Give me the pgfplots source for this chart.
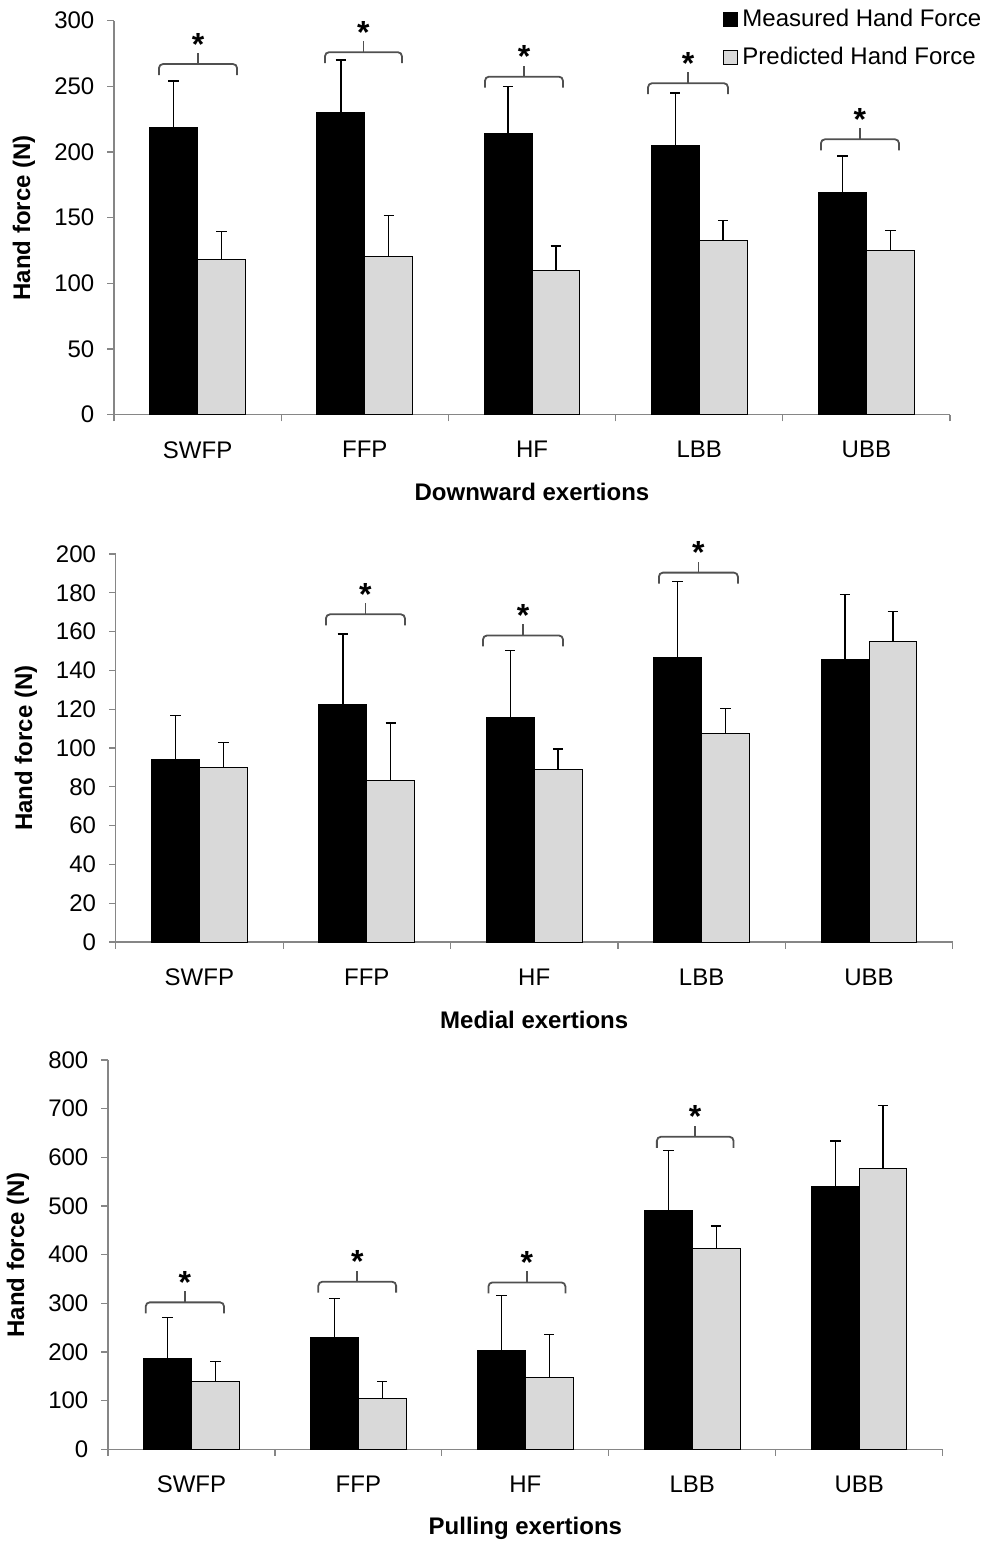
\documentclass[border=0pt]{standalone}
\usepackage{fontspec}
\setmainfont{Liberation Sans}
\usepackage{pgfplots}
\pgfplotsset{compat=1.18}
\usepackage{pgfplotstable}
\definecolor{axgray}{HTML}{868686}
\definecolor{barlight}{HTML}{D9D9D9}
\definecolor{brkgray}{HTML}{505050}

\pgfplotstableread{
x m me p pe
0 219 35 118.5 21
1 230 40 120.5 31
2 214 36 110 18.5
3 205 40 133 15
4 169 28 125 15
}\down
\pgfplotstableread{
x m me p pe
0 94.3 22.5 90.2 12.5
1 122.3 36.5 83.3 29.6
2 115.8 34.4 88.7 10.8
3 146.4 39.5 107.4 13
4 145.7 33.3 154.8 15.7
}\medial
\pgfplotstableread{
x m me p pe
0 187 83.4 139.7 40.3
1 230 80 104.8 34.9
2 204 111.6 147.9 87.6
3 490.3 124 412.2 46.6
4 540.4 93.1 577.3 129.5
}\pulling

\newcommand{\fs}{\fontsize{12}{14}\selectfont}
% significance bracket: x1, x2, ytop
\newcommand{\sig}[3]{%
  \draw[brkgray, line width=0.9pt, rounded corners=2pt]
    ([yshift=-5.5pt]axis cs:#1,#3) -- (axis cs:#1,#3) -- (axis cs:#2,#3) -- ([yshift=-5.5pt]axis cs:#2,#3);
  \draw[brkgray, line width=0.9pt]
    (axis cs:{(#1+#2)/2},#3) -- ([yshift=5.5pt]axis cs:{(#1+#2)/2},#3);
  \node[inner sep=0pt, font=\fontsize{16}{16}\selectfont\bfseries] at ([yshift=10pt]axis cs:{(#1+#2)/2},#3) {*};
}

\pgfplotsset{
  panel/.style={
    scale only axis, anchor=south west, clip=false,
    xmin=-0.5, xmax=4.5, ymin=0,
    axis x line*=bottom, axis y line*=left,
    axis line style={axgray, line width=0.6pt},
    tick style={axgray, line width=0.6pt},
    tick align=outside, major tick length=3.3pt,
    xtick={-0.5,0.5,...,4.5},
    x tick label as interval,
    xticklabels={SWFP,FFP,HF,LBB,UBB},
    ybar, bar width=0.286,
    tick label style={font=\fs, black},
    xticklabel style={yshift=-6.5pt},
    yticklabel style={xshift=-3pt},
    /pgf/number format/assume math mode=true,
    label style={font=\fs\bfseries},
    ylabel={Hand force (N)},
    legend image code/.code={\draw[#1, line width=0.5pt] (0pt,-3.5pt) rectangle (7pt,3.5pt);},
    error bars/y dir=plus, error bars/y explicit,
    error bars/error bar style={black, line width=0.65pt},
    error bars/error mark options={rotate=90, mark size=2.6pt, black, line width=0.65pt},
  },
  mplot/.style={fill=black, draw=black, line width=0.5pt, bar shift=-0.143},
  pplot/.style={fill=barlight, draw=black, line width=0.5pt, bar shift=0.143},
}

\begin{document}
\begin{tikzpicture}
\useasboundingbox (0,0) rectangle (493.5pt,-771pt);

% Panel 1: Downward
\begin{axis}[panel,
  at={(57pt,-207.35pt)}, width=418pt, height=197pt,
  ymax=300, ytick={0,50,...,300},
  xlabel={Downward exertions},
  xlabel style={at={(axis description cs:0.5,-0.1954)}, anchor=center},
  ylabel style={at={(axis description cs:-0.1077,0.5)}, anchor=center},
  legend style={at={(axis description cs:0.7285,0.9556)}, anchor=west, draw=none, fill=none,
    inner sep=0pt, font=\fs, row sep=5pt, cells={anchor=west}},
]
\addplot[mplot] table[x=x, y=m, y error=me] {\down};
\addplot[pplot] table[x=x, y=p, y error=pe] {\down};
\legend{Measured Hand Force, Predicted Hand Force}
\sig{-0.231}{0.236}{267}
\sig{0.762}{1.222}{276}
\sig{1.719}{2.185}{257.4}
\sig{2.694}{3.172}{252.4}
\sig{3.728}{4.195}{209.7}
\end{axis}

% Panel 2: Medial
\begin{axis}[panel,
  at={(57.85pt,-471pt)}, width=418.5pt, height=194pt,
  ymax=200, ytick={0,20,...,200},
  xlabel={Medial exertions},
  xlabel style={at={(axis description cs:0.5,-0.201)}, anchor=center},
  ylabel style={at={(axis description cs:-0.1072,0.5)}, anchor=center},
]
\addplot[mplot] table[x=x, y=m, y error=me] {\medial};
\addplot[pplot] table[x=x, y=p, y error=pe] {\medial};
\sig{0.756}{1.228}{168.9}
\sig{1.694}{2.172}{158}
\sig{2.745}{3.217}{190.4}
\end{axis}

% Panel 3: Pulling
\begin{axis}[panel,
  at={(54pt,-724.65pt)}, width=417.35pt, height=194.65pt,
  ymax=800, ytick={0,100,...,800},
  xlabel={Pulling exertions},
  xlabel style={at={(axis description cs:0.5,-0.202)}, anchor=center},
  ylabel style={at={(axis description cs:-0.1078,0.5)}, anchor=center},
]
\addplot[mplot] table[x=x, y=m, y error=me] {\pulling};
\addplot[pplot] table[x=x, y=p, y error=pe] {\pulling};
\sig{-0.274}{0.195}{302}
\sig{0.760}{1.226}{344.4}
\sig{1.779}{2.240}{343}
\sig{2.788}{3.247}{642.3}
\end{axis}
\end{tikzpicture}
\end{document}
